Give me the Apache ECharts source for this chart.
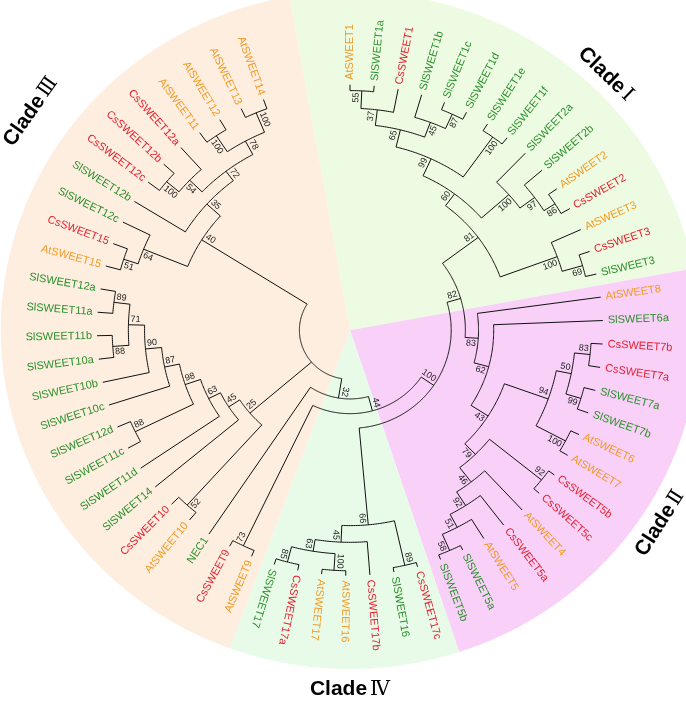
<!DOCTYPE html>
<html><head><meta charset="utf-8">
<script src="https://cdn.jsdelivr.net/npm/echarts@6/dist/echarts.min.js"></script>
<style>html,body{margin:0;padding:0;background:#fff}#c{width:686px;height:702px}</style>
</head><body><div id="c"></div>
<script>
// ---------- DATA ----------
const leafNames = [
  'AtSWEET1','SlSWEET1a','CsSWEET1','SlSWEET1b','SlSWEET1c','SlSWEET1d','SlSWEET1e','SlSWEET1f',
  'SlSWEET2a','SlSWEET2b','AtSWEET2','CsSWEET2','AtSWEET3','CsSWEET3','SlSWEET3',
  'AtSWEET8','SlSWEET6a','CsSWEET7b','CsSWEET7a','SlSWEET7a','SlSWEET7b','AtSWEET6','AtSWEET7',
  'CsSWEET5b','CsSWEET5c','AtSWEET4','CsSWEET5a','AtSWEET5','SlSWEET5a','SlSWEET5b',
  'CsSWEET17c','SlSWEET16','CsSWEET17b','AtSWEET16','AtSWEET17','CsSWEET17a','SlSWEET17',
  'AtSWEET9','CsSWEET9','NEC1','AtSWEET10','CsSWEET10','SlSWEET14','SlSWEET11d','SlSWEET11c',
  'SlSWEET12d','SlSWEET10c','SlSWEET10b','SlSWEET10a','SlSWEET11b','SlSWEET11a','SlSWEET12a',
  'AtSWEET15','CsSWEET15','SlSWEET12c','SlSWEET12b','CsSWEET12c','CsSWEET12b','CsSWEET12a',
  'AtSWEET11','AtSWEET12','AtSWEET13','AtSWEET14'
];
// internal nodes (children before parents): [id, children (Newick order), node depth, bootstrap]
const internalNodes = [
  ['n55',['AtSWEET1','SlSWEET1a'],244,55],
  ['n37',['n55','CsSWEET1'],226,37],
  ['n87a',['SlSWEET1d','SlSWEET1c'],242,87],
  ['n45a',['n87a','SlSWEET1b'],226,45],
  ['n65',['n37','n45a'],210,65],
  ['n100e',['SlSWEET1f','SlSWEET1e'],242,100],
  ['n99',['n65','n100e'],192,99],
  ['n86',['CsSWEET2','AtSWEET2'],240,86],
  ['n97',['n86','SlSWEET2b'],227,97],
  ['n100x',['n97','SlSWEET2a'],209,100],
  ['n60',['n99','n100x'],173,60],
  ['n69',['SlSWEET3','CsSWEET3'],239,69],
  ['n100y',['n69','AtSWEET3'],218,100],
  ['n81',['n60','n100y'],158,81],
  ['n83b',['CsSWEET7b','CsSWEET7a'],238.5,83],
  ['n99b',['SlSWEET7b','SlSWEET7a'],238.5,99],
  ['n50',['n83b','n99b'],223,50],
  ['n100b',['AtSWEET7','AtSWEET6'],241,100],
  ['n94',['n50','n100b'],208,94],
  ['n92a',['CsSWEET5b','CsSWEET5c'],243,92],
  ['n58',['SlSWEET5b','SlSWEET5a'],245,58],
  ['n51',['n58','AtSWEET5'],227,51],
  ['n92b',['n51','CsSWEET5a'],212,92],
  ['n46',['n92b','AtSWEET4'],195.5,46],
  ['n79',['n46','n92a'],177,79],
  ['n43',['n79','n94'],162,43],
  ['n62',['n43','SlSWEET6a'],142,62],
  ['n83',['n62','AtSWEET8'],127,83],
  ['n82',['n81','n83'],114,82],
  ['n89',['CsSWEET17c','SlSWEET16'],245.5,89],
  ['n85',['SlSWEET17','CsSWEET17a'],244,85],
  ['n100c',['AtSWEET16','AtSWEET17'],245,100],
  ['n63b',['n85','n100c'],228,63],
  ['n45b',['n63b','CsSWEET17b'],216,45],
  ['n66',['n45b','n89'],199,66],
  ['n100',['n82','n66'],100,100],
  ['n73',['CsSWEET9','AtSWEET9'],243.5,73],
  ['n44',['n100','n73'],85,44],
  ['n32',['n44','NEC1'],70,32],
  ['n52',['AtSWEET10','CsSWEET10'],240,52],
  ['n88a',['SlSWEET12d','SlSWEET11c'],236,88],
  ['n88b',['SlSWEET10a','SlSWEET11b'],235,88],
  ['n89c',['SlSWEET12a','SlSWEET11a'],235,89],
  ['n71',['n89c','n88b'],219,71],
  ['n90',['n71','SlSWEET10b'],203,90],
  ['n87',['n90','SlSWEET10c'],187,87],
  ['n98',['n87','n88a'],172,98],
  ['n63',['n98','SlSWEET11d'],156,63],
  ['n45',['n63','SlSWEET14'],143,45],
  ['n25',['n45','n52'],130,25],
  ['n51b',['AtSWEET15','CsSWEET15'],235,51],
  ['n64',['n51b','SlSWEET12c'],220,64],
  ['n100d',['CsSWEET12c','CsSWEET12b'],236,100],
  ['n54',['n100d','CsSWEET12a'],220,54],
  ['n100e2',['AtSWEET11','AtSWEET12'],238,100],
  ['n100f',['AtSWEET14','AtSWEET13'],240,100],
  ['n78',['n100f','n100e2'],218.5,78],
  ['n72',['n78','n54'],203,72],
  ['n35',['n72','SlSWEET12b'],191,35],
  ['n40',['n35','n64'],173,40],
  ['root',['n32','n25','n40'],50,null]
];
const cladeNumerals = ['Ⅰ','Ⅱ','Ⅳ','Ⅲ'];
const cladeFirstLeaf = ['AtSWEET1','AtSWEET8','CsSWEET17c','AtSWEET9'];
const cladeLastLeaf  = ['SlSWEET3','SlSWEET5b','SlSWEET17','AtSWEET14'];

// ---------- LAYOUT ----------
const TIP_R = 250, SPAN = 340, WEDGE_R = 345, LABEL_GAP = 5;
const step = SPAN / (leafNames.length - 1);
const angleOf = {}, radiusOf = {}, parentOf = {};
leafNames.forEach((n, i) => { angleOf[n] = i * step; radiusOf[n] = TIP_R; });
internalNodes.forEach(([id, ch, r]) => {
  const as = ch.map(c => angleOf[c]);
  angleOf[id] = (Math.min(...as) + Math.max(...as)) / 2;
  radiusOf[id] = r;
  ch.forEach(c => parentOf[c] = id);
});
const branchData = [];
internalNodes.forEach(([id, ch]) => {
  const as = ch.map(c => angleOf[c]);
  branchData.push([0, Math.min(...as), Math.max(...as), radiusOf[id]]);
});
Object.keys(parentOf).forEach(n => branchData.push([1, angleOf[n], radiusOf[parentOf[n]], radiusOf[n]]));

const leafData = leafNames.map((n, i) => [angleOf[n], TIP_R, i]);
const bootNodes = internalNodes.filter(d => d[3] !== null);
const bootData = bootNodes.map((d, i) => [angleOf[d[0]], radiusOf[d[0]], i, angleOf[d[1][0]] > angleOf[d[0]] ? 1 : 0]);

const wedgeColors = ['#ECFBE1', '#F8D0F8', '#E8FBE8', '#FDEEDF'];
const wedgeData = cladeFirstLeaf.map((f, k) => {
  const i0 = leafNames.indexOf(f), i1 = leafNames.indexOf(cladeLastLeaf[k]);
  const prev = i0 === 0 ? angleOf[leafNames[leafNames.length - 1]] - 360 : angleOf[leafNames[i0 - 1]];
  const next = i1 === leafNames.length - 1 ? 360 : angleOf[leafNames[i1 + 1]];
  return [(prev + angleOf[f]) / 2, (angleOf[cladeLastLeaf[k]] + next) / 2, WEDGE_R, k];
});

function colorOf(n) {
  if (n.startsWith('At')) return '#F39A26';
  if (n.startsWith('Cs')) return '#E5202E';
  return '#2B8F2B';
}
function P(api, a, r) {
  const t = a * Math.PI / 180;
  return api.coord([r * Math.sin(t), r * Math.cos(t)]);
}
const D = Math.PI / 180;
const FONT = '"Liberation Sans", Arial, sans-serif';
const FLIP = 200;

const cladeTitlePos = [[44.1, 363, -44.1], [122.7, 364, 57.3], [180, 366, 0], [305.2, 386, 54.8]];

const option = {
  animation: false,
  backgroundColor: '#ffffff',
  grid: { left: 46.4, top: 35.6, width: 607.2, height: 589.2 },
  xAxis: { type: 'value', min: -300, max: 300, show: false },
  yAxis: { type: 'value', min: -300, max: 300, show: false },
  series: [
    { type: 'custom', data: wedgeData, silent: true, z: 1,
      renderItem: (params, api) => {
        const a0 = api.value(0), a1 = api.value(1), R = api.value(2);
        const pts = [P(api, 0, 0)];
        const n = Math.ceil((a1 - a0) / 0.5) + 1;
        for (let k = 0; k < n; k++) pts.push(P(api, a0 + (a1 - a0) * k / (n - 1), R));
        return { type: 'polygon', shape: { points: pts },
          style: { fill: wedgeColors[api.value(3)], stroke: null } };
      } },
    { type: 'custom', data: branchData, silent: true, z: 3,
      renderItem: (params, api) => {
        const t = api.value(0), a = api.value(1), b = api.value(2), c = api.value(3);
        let pts;
        if (t === 0) {
          pts = [];
          const n = Math.max(2, Math.ceil((b - a) / 0.5) + 1);
          for (let k = 0; k < n; k++) pts.push(P(api, a + (b - a) * k / (n - 1), c));
        } else pts = [P(api, a, b), P(api, a, c)];
        return { type: 'polyline', shape: { points: pts },
          style: { stroke: '#111', lineWidth: 1, fill: null } };
      } },
    { type: 'custom', data: leafData, silent: true, z: 4,
      renderItem: (params, api) => {
        const a = api.value(0), r = api.value(1), name = leafNames[api.value(2)];
        const p = P(api, a, r + LABEL_GAP);
        const right = a < FLIP;
        return { type: 'text', x: p[0], y: p[1], rotation: (right ? 90 - a : 270 - a) * D,
          style: { text: name, fill: colorOf(name), font: '11px ' + FONT,
            align: right ? 'left' : 'right', verticalAlign: 'middle',
            textAlign: right ? 'left' : 'right', textVerticalAlign: 'middle' } };
      } },
    { type: 'custom', data: bootData, silent: true, z: 4,
      renderItem: (params, api) => {
        const a = api.value(0), r = api.value(1), s = String(bootNodes[api.value(2)][3]);
        const cw = api.value(3) === 1;
        const p = P(api, a, r);
        const right = a < FLIP;
        const up = right ? !cw : cw;
        return { type: 'text', x: p[0], y: p[1], rotation: (right ? 90 - a : 270 - a) * D,
          style: { text: s, x: right ? -2 : 2, y: up ? -1 : 1, fill: '#222', font: '9px ' + FONT,
            align: right ? 'right' : 'left', verticalAlign: up ? 'bottom' : 'top',
            textAlign: right ? 'right' : 'left', textVerticalAlign: up ? 'bottom' : 'top' } };
      } },
    { type: 'custom', data: cladeNumerals.map((c, i) => [i]), silent: true, z: 5,
      renderItem: (params, api) => {
        const i = api.value(0), pos = cladeTitlePos[i];
        const p = P(api, pos[0], pos[1]);
        return { type: 'text', x: p[0], y: p[1], rotation: pos[2] * D,
          style: { text: '{b|Clade}{n|' + cladeNumerals[i] + '}',
            align: 'center', verticalAlign: 'middle', textAlign: 'center', textVerticalAlign: 'middle',
            rich: { b: { font: 'bold 21px ' + FONT, fill: '#000', color: '#000' },
                    n: { font: '20px "DejaVu Serif", "Liberation Serif", serif', fill: '#000', color: '#000', padding: [0, 0, 0, 3] } } } };
      } }
  ]
};
echarts.init(document.getElementById('c'), null, { renderer: 'canvas' }).setOption(option);
</script></body></html>
